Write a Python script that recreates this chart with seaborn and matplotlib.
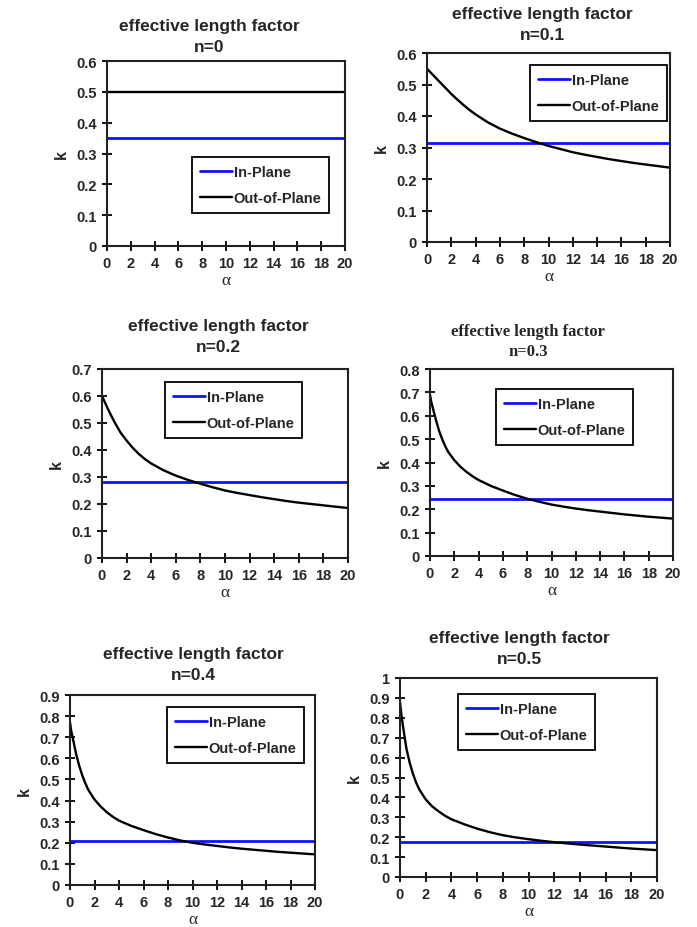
import numpy as np
import pandas as pd
import matplotlib
matplotlib.use("Agg")
import matplotlib.pyplot as plt
import seaborn as sns

sns.set_theme(style="white")
plt.rcParams['font.family'] = ['Liberation Sans', 'DejaVu Sans']

# ---------------- data ----------------
n_labels = ["n=0", "n=0.1", "n=0.2", "n=0.3", "n=0.4", "n=0.5"]
y_max = [0.6, 0.6, 0.7, 0.8, 0.9, 1.0]

in_plane_alpha = [0, 20]
in_plane_k = [0.35, 0.315, 0.28, 0.245, 0.21, 0.175]

alpha_n0 = [0, 20]
out_n0 = [0.5, 0.5]

alpha_n1 = [0, 0.5, 1, 1.5, 2, 2.5, 3, 3.5, 4, 5, 6, 7, 8, 9, 10, 11, 12, 13, 14, 15, 16, 17, 18, 19, 20]
out_n1 = [0.55, 0.53, 0.51, 0.49, 0.47, 0.452, 0.435, 0.419, 0.405, 0.38, 0.36, 0.344, 0.33, 0.317, 0.305,
          0.295, 0.285, 0.277, 0.27, 0.263, 0.257, 0.251, 0.246, 0.241, 0.236]

alpha_n2 = [0, 0.25, 0.5, 0.75, 1, 1.5, 2, 2.5, 3, 3.5, 4, 5, 6, 7, 8, 9, 10, 11, 12, 13, 14, 15, 16, 17, 18, 19, 20]
out_n2 = [0.60, 0.575, 0.55, 0.527, 0.505, 0.465, 0.435, 0.408, 0.385, 0.366, 0.35, 0.325, 0.305, 0.289,
          0.275, 0.262, 0.25, 0.241, 0.233, 0.225, 0.218, 0.211, 0.205, 0.2, 0.195, 0.19, 0.185]

alpha_n3 = [0, 0.1, 0.25, 0.5, 0.75, 1, 1.25, 1.5, 2, 2.5, 3, 3.5, 4, 5, 6, 7, 8, 9, 10, 11, 12, 13, 14, 15, 16, 17, 18, 19, 20]
out_n3 = [0.69, 0.66, 0.63, 0.58, 0.535, 0.50, 0.47, 0.445, 0.41, 0.382, 0.36, 0.341, 0.325, 0.30, 0.28,
          0.261, 0.245, 0.232, 0.22, 0.211, 0.203, 0.196, 0.19, 0.184, 0.178, 0.173, 0.168, 0.164, 0.16]

alpha_n4 = [0, 0.1, 0.25, 0.5, 0.75, 1, 1.25, 1.5, 2, 2.5, 3, 3.5, 4, 5, 6, 7, 8, 9, 10, 11, 12, 13, 14, 15, 16, 17, 18, 19, 20]
out_n4 = [0.77, 0.73, 0.69, 0.62, 0.565, 0.52, 0.482, 0.45, 0.405, 0.372, 0.345, 0.323, 0.305, 0.28, 0.26,
          0.241, 0.225, 0.211, 0.20, 0.192, 0.185, 0.178, 0.172, 0.167, 0.162, 0.157, 0.153, 0.149, 0.145]

alpha_n5 = [0, 0.1, 0.25, 0.5, 0.75, 1, 1.25, 1.5, 2, 2.5, 3, 3.5, 4, 5, 6, 7, 8, 9, 10, 11, 12, 13, 14, 15, 16, 17, 18, 19, 20]
out_n5 = [0.88, 0.82, 0.75, 0.645, 0.575, 0.52, 0.475, 0.44, 0.39, 0.355, 0.33, 0.308, 0.29, 0.265, 0.243,
          0.225, 0.21, 0.199, 0.19, 0.182, 0.175, 0.169, 0.163, 0.158, 0.153, 0.148, 0.143, 0.139, 0.135]

out_alpha = [alpha_n0, alpha_n1, alpha_n2, alpha_n3, alpha_n4, alpha_n5]
out_k = [out_n0, out_n1, out_n2, out_n3, out_n4, out_n5]

x_ticks = list(range(0, 21, 2))

# ---------------- layout (pixels in a 697x928 canvas) ----------------
W, H = 697, 928
# left, right, top, bottom of each plot area
boxes = [(107, 345, 62, 247), (427, 670, 54, 243),
         (102, 348, 370, 559), (430, 673, 370, 557),
         (70, 315, 696, 886), (400, 657, 679, 878)]
title_pos = [(209, 27, 48), (542, 15, 35), (218, 327, 348),
             (528, 332, 352), (193, 655, 676), (519, 638, 660)]
legend_ul = [(192, 158), (530, 66), (165, 383), (496, 390), (167, 708), (458, 695)]

fig = plt.figure(figsize=(W / 100, H / 100), dpi=100)
fig.patch.set_facecolor("white")

for i in range(6):
    l, r, t, b = boxes[i]
    ax = fig.add_axes([l / W, 1 - b / H, (r - l) / W, (b - t) / H])
    ip = pd.DataFrame({"alpha": in_plane_alpha, "k": [in_plane_k[i]] * 2})
    op = pd.DataFrame({"alpha": out_alpha[i], "k": out_k[i]})
    sns.lineplot(data=ip, x="alpha", y="k", ax=ax, color="#1010ff", lw=2.0,
                 label="In-Plane")
    sns.lineplot(data=op, x="alpha", y="k", ax=ax, color="black", lw=1.7,
                 label="Out-of-Plane")
    ax.set_xlim(0, 20)
    ax.set_ylim(0, y_max[i])
    ax.set_xticks(x_ticks)
    yt = np.round(np.arange(0, y_max[i] + 1e-9, 0.1), 1)
    ax.set_yticks(yt)
    ax.set_yticklabels(["0" if v == 0 else ("1" if v == 1 else f"{v:g}") for v in yt])
    ax.set_xticklabels([str(v) for v in x_ticks])
    ax.tick_params(axis="both", direction="inout", length=7, width=1.3,
                   color="black", labelsize=10.5, pad=4, left=True, bottom=True)
    for lab in ax.get_xticklabels() + ax.get_yticklabels():
        lab.set_fontweight("bold")
    for s in ax.spines.values():
        s.set_color("#222222")
        s.set_linewidth(1.5)
    ax.set_xlabel("α", family=["Liberation Serif", "DejaVu Serif"], fontsize=12.5, labelpad=1)
    ax.set_ylabel("k", fontsize=11.5, fontweight="bold", labelpad=5)
    leg = ax.legend(loc="upper left",
                    bbox_to_anchor=(legend_ul[i][0] / W, 1 - legend_ul[i][1] / H),
                    bbox_transform=fig.transFigure, fancybox=False, framealpha=1,
                    edgecolor="black", handlelength=2.2, handletextpad=0.1,
                    labelspacing=0.85, borderpad=0.55, borderaxespad=0,
                    prop={"weight": "bold", "size": 10.5})
    leg.get_frame().set_linewidth(1.3)

    tx, ty1, ty2 = title_pos[i]
    if i == 3:
        fam = ["Liberation Serif", "DejaVu Serif"]
        fs = 12
    else:
        fam = ["Liberation Sans", "DejaVu Sans"]
        fs = 12.5
    fig.text(tx / W, 1 - ty1 / H, "effective length factor", ha="center", va="center",
             fontsize=fs, fontweight="bold", family=fam)
    fig.text(tx / W, 1 - ty2 / H, n_labels[i], ha="center", va="center",
             fontsize=fs, fontweight="bold", family=fam)

fig.savefig("out.png", dpi=100, facecolor="white")
